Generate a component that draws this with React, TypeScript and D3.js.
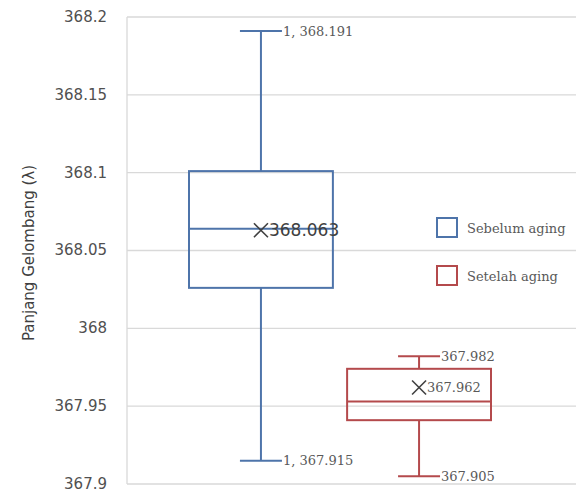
import React from "react";
import * as d3 from "d3";

const series = ["Sebelum aging", "Setelah aging"];
const colors = ["#4e74aa", "#b44a4c"];
const minVals = [367.915, 367.905];
const q1Vals = [368.026, 367.941];
const medianVals = [368.064, 367.953];
const q3Vals = [368.101, 367.974];
const maxVals = [368.191, 367.982];
const meanVals = [368.063, 367.962];
const maxLabels = ["1, 368.191", "367.982"];
const minLabels = ["1, 367.915", "367.905"];
const meanLabels = ["368.063", "367.962"];
const yTicks = [367.9, 367.95, 368, 368.05, 368.1, 368.15, 368.2];
const yTickLabels = ["367.9", "367.95", "368", "368.05", "368.1", "368.15", "368.2"];

const W = 576;
const H = 491;
const plotLeft = 127;
const plotRight = 576;
const plotTop = 17;
const plotBottom = 484;

export default function App() {
  const y = d3.scaleLinear().domain([367.9, 368.2]).range([plotBottom, plotTop]);
  const x = d3.scaleBand<string>().domain(series).range([189, 491]).paddingInner(0.09).paddingOuter(0);
  const bw = x.bandwidth();
  const capHalf = 21;
  const serif = "'DejaVu Serif', serif";
  const sans = "'DejaVu Sans', sans-serif";

  return (
    <svg width={W} height={H} style={{ position: "absolute", left: 0, top: 0, background: "#fff" }}>
      {yTicks.map((t, i) => (
        <g key={i}>
          <line x1={plotLeft} x2={plotRight} y1={y(t)} y2={y(t)} stroke="#d9d9d9" strokeWidth={1.3} />
          <text x={107} y={y(t)} dy="0.33em" textAnchor="end" fontFamily={sans} fontSize={15} fill="#505050">
            {yTickLabels[i]}
          </text>
        </g>
      ))}
      <line x1={plotLeft} x2={plotLeft} y1={plotTop} y2={plotBottom} stroke="#d9d9d9" strokeWidth={1.3} />
      <text
        transform={`translate(29,253) rotate(-90)`}
        textAnchor="middle"
        dy="0.36em"
        fontFamily={sans}
        fontSize={15}
        fill="#404040"
      >
        Panjang Gelombang (λ)
      </text>
      {series.map((s, i) => {
        const x0 = x(s)!;
        const cx = x0 + bw / 2;
        const c = colors[i];
        return (
          <g key={s} fill="none" stroke={c} strokeWidth={2}>
            <line x1={cx} x2={cx} y1={y(maxVals[i])} y2={y(q3Vals[i])} />
            <line x1={cx} x2={cx} y1={y(q1Vals[i])} y2={y(minVals[i])} />
            <line x1={cx - capHalf} x2={cx + capHalf} y1={y(maxVals[i])} y2={y(maxVals[i])} />
            <line x1={cx - capHalf} x2={cx + capHalf} y1={y(minVals[i])} y2={y(minVals[i])} />
            <rect x={x0} y={y(q3Vals[i])} width={bw} height={y(q1Vals[i]) - y(q3Vals[i])} fill="none" />
            <line x1={x0} x2={x0 + bw} y1={y(medianVals[i])} y2={y(medianVals[i])} />
            <g stroke="#404040" strokeWidth={1.6}>
              <line x1={cx - 7} x2={cx + 7} y1={y(meanVals[i]) - 7} y2={y(meanVals[i]) + 7} />
              <line x1={cx - 7} x2={cx + 7} y1={y(meanVals[i]) + 7} y2={y(meanVals[i]) - 7} />
            </g>
            <text x={cx + capHalf + 1} y={y(maxVals[i])} dy="0.36em" stroke="none" fill="#595959" fontFamily={serif} fontSize={13}>
              {maxLabels[i]}
            </text>
            <text x={cx + capHalf + 1} y={y(minVals[i])} dy="0.36em" stroke="none" fill="#595959" fontFamily={serif} fontSize={13}>
              {minLabels[i]}
            </text>
            {i === 0 ? (
              <text x={cx + 8} y={y(meanVals[i])} dy="0.36em" stroke="none" fill="#404040" fontFamily={sans} fontSize={17}>
                {meanLabels[i]}
              </text>
            ) : (
              <text x={cx + 8} y={y(meanVals[i])} dy="0.36em" stroke="none" fill="#595959" fontFamily={serif} fontSize={13}>
                {meanLabels[i]}
              </text>
            )}
          </g>
        );
      })}
      {series.map((s, i) => (
        <g key={"leg" + s} transform={`translate(437,${218 + i * 48})`}>
          <rect x={0} y={0} width={20} height={19} fill="#fff" stroke={colors[i]} strokeWidth={2} />
          <text x={30} y={10} dy="0.36em" fontFamily={serif} fontSize={13} fill="#595959">
            {s}
          </text>
        </g>
      ))}
    </svg>
  );
}
